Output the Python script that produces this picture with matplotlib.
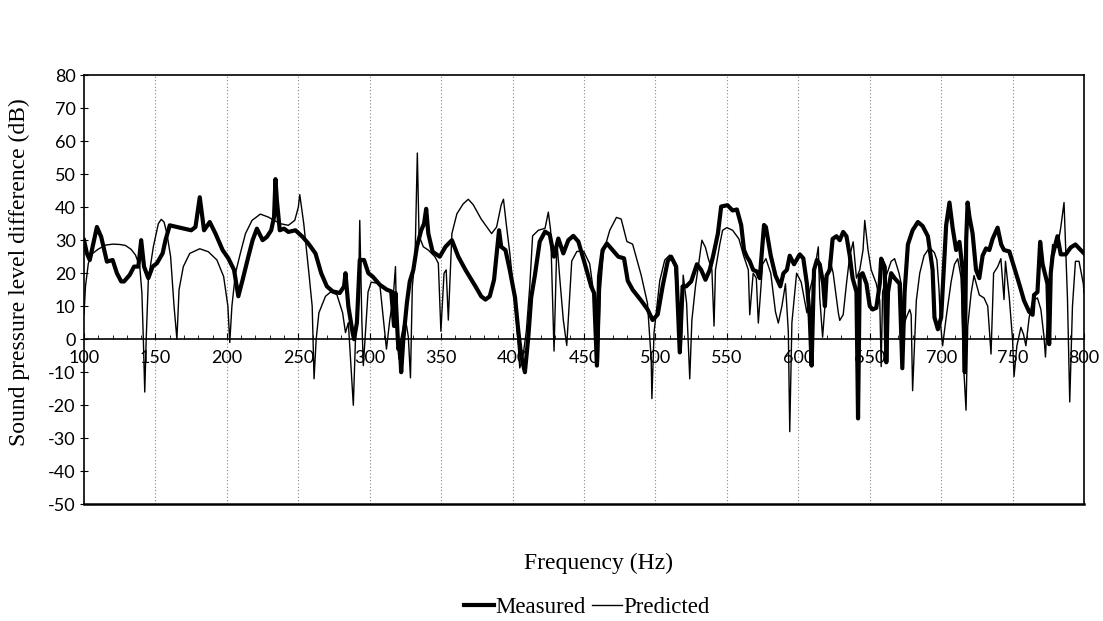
# Sound pressure level difference, measured vs predicted

import matplotlib
matplotlib.use("Agg")
import matplotlib.pyplot as plt
from matplotlib.ticker import MultipleLocator

plt.rcParams["axes.unicode_minus"] = False

# Measured curve (Hz, dB)
meas_f = [100, 102, 104, 107, 109, 112, 116, 120, 123, 126, 128, 132, 135, 138, 140, 142, 145, 148,
          151, 155, 157, 160, 165, 170, 175, 178, 181, 184, 188, 192, 197, 201, 205, 208, 211, 215,
          218, 221, 225, 228, 231, 233, 234, 235, 237, 240, 243, 248, 253, 257, 262, 266, 270, 274,
          279, 282, 283, 285, 288, 289, 291, 293, 296, 299, 302, 307, 312, 315, 317, 318, 320, 321,
          322, 323.5, 326, 328, 330.5, 333, 336, 338, 339.5, 341, 344, 349, 353, 357.5, 362, 367,
          374, 378, 381, 384, 387, 390.5, 392, 395, 398, 401.7, 404, 406, 408.6, 411, 413, 415.6,
          419, 422.7, 426, 429, 432, 435.5, 439, 442.5, 446, 450, 455, 457, 459, 460.5, 463, 466,
          470, 474, 478, 480.6, 484, 490, 494.5, 498, 501.6, 505, 508.6, 511, 514.5, 517, 519,
          521.5, 525, 529, 532, 535, 538, 540.4, 543.7, 546, 550.4, 554, 557, 560, 562, 564, 566,
          568.4, 571, 573, 576, 577.3, 580.7, 584, 587.4, 589.6, 592, 594, 597, 601, 603.5, 606,
          608, 609.3, 611, 613, 615, 617.4, 618.6, 619.8, 622, 624, 626.7, 629, 631.4, 633.7, 636,
          638, 640.7, 641.8, 643, 645, 647.7, 650, 652, 654.6, 657, 658, 660.5, 661.6, 662.8, 665,
          667.4, 670.9, 672.8, 674.4, 676.7, 680, 683.7, 687, 690.7, 694, 695.3, 697.7, 700, 703.5,
          705.8, 708, 710.5, 712.8, 715, 716.5, 717.5, 718.5, 719.8, 722, 724.4, 726.7, 729, 731.4,
          733.7, 736, 739.5, 742, 744, 747.7, 751, 754.6, 758, 761.6, 764, 765, 767.4, 769.3, 771,
          774.4, 775.6, 776.7, 778, 780, 781.4, 783.7, 787.2, 790.7, 794, 797.7, 800]
meas_db = [30, 26, 24, 30, 34, 31, 23.5, 24, 20, 17.5, 17.5, 19.5, 22, 22, 30, 22, 18.5, 22,
           23, 26, 30, 34.5, 34, 33.5, 33, 34, 43, 33, 35.5, 32, 27, 24.5, 21, 13, 18, 25,
           30, 33.5, 30, 31, 33, 37, 48.5, 42, 33, 33.5, 32.5, 33, 31, 29, 26, 20, 16, 14.5,
           14, 16, 20, 10, 2, 0, 5, 24, 24, 20, 19, 16.5, 15, 14.5, 4, 14, -3, -2,
           -10, 0, 11, 17.5, 21, 28, 33, 35, 39.5, 32, 26.5, 25, 28, 30, 25, 21,
           16, 13, 12, 13, 18, 33, 28, 27, 21, 12.6, 2.4, -5, -10, 0.7, 12.6, 19.4,
           29.6, 32.6, 31.7, 25, 30.5, 26, 30, 31.3, 29.6, 23.7, 16, 14, -8, 19, 27, 29,
           27, 25, 24.5, 17.7, 15, 11.7, 9, 5.8, 7.5, 16, 23.7, 25, 22, -4, 16,
           16, 17.5, 22.7, 21, 18, 21, 25.3, 32, 40.2, 40.6, 39, 39.3, 34.6, 27, 25, 23.6,
           21, 20.5, 18.5, 34.6, 34, 25.3, 19.3, 16, 20, 21, 25.3, 22.7, 25.7, 24.5, 16.8,
           6.6, -8, 21, 24, 22.7, 16.8, 10, 19.3, 21, 30.4, 31.2, 30, 32.5, 31.2, 25.3,
           18.5, 14.3, -24, 19.3, 20, 16.8, 10, 9, 9.5, 16.8, 24.4, 21.9, -7, 14.3, 20,
           18.5, 16.8, -8.8, 14.3, 28.7, 33, 35.5, 34.3, 31.2, 21, 6.6, 3, 6.6, 34.6,
           41.4, 33.8, 27, 29.5, 21, -10, 30, 41.4, 37, 32, 21, 18.5, 25.3, 27.5,
           27, 30.4, 33.8, 28.7, 27, 26.6, 21.9, 16.8, 11.7, 8.3, 7.4, 13.4, 14.3, 29.5, 22.7,
           16.8, -1.5, 20, 25.3, 28.7, 31.2, 25.7, 25.7, 27.8, 28.7, 27, 26]

# Predicted curve (Hz, dB)
pred_f = [100, 101, 103, 106, 110, 115, 120, 125, 129, 133, 136, 139, 140.5, 141.5, 142.5, 143.5,
          145, 148.5, 152, 154, 156, 158, 160.6, 163, 165, 166.5, 169.5, 174, 181, 187, 193,
          197.7, 200.7, 202, 203.5, 206, 209.4, 213, 217.6, 223.4, 229, 233, 237.5, 243, 247.5,
          250, 251, 253.8, 257.4, 259.7, 261, 262.5, 264.4, 269, 272.6, 277, 281, 283, 285, 288.5,
          290, 292, 293, 294.5, 295.5, 298.8, 301, 307, 309.4, 311.7, 314, 316.4, 318, 319, 320.4,
          321.8, 324, 325.8, 327, 328.5, 329.8, 331.7, 333.3, 334.5, 337.5, 341, 345.6, 348, 349.8,
          352, 353.5, 355, 357.5, 361, 365.4, 369, 372.5, 378, 385.3, 388.8, 392, 393.6, 395.6,
          398, 400, 403, 405, 407, 409.6, 412, 414, 418, 422.7, 425, 426.6, 429, 431, 433, 435.5,
          437.9, 441.4, 445, 449.8, 454, 457.7, 460, 461.5, 463.5, 468, 472.7, 476, 480, 484, 490,
          494.4, 497, 497.5, 499, 503, 506.5, 510, 513.5, 517, 518, 519.4, 521.8, 524, 525.5, 528,
          530.3, 532.5, 535, 537, 539.5, 541, 542, 545, 547, 550, 554, 558.4, 561.7, 565, 566,
          568.4, 570.6, 572, 575, 577.3, 580.7, 584, 586, 588.5, 591, 593, 594, 595.5, 598.8, 602,
          606, 608, 611, 614, 615, 617, 619.8, 622, 624.4, 628, 629, 631.4, 633.7, 636, 638.4,
          640.7, 643, 645.3, 646.5, 648.8, 651, 654.6, 657, 658, 659, 661.6, 665, 667.4, 670.5,
          672, 673, 675.6, 678, 679, 680, 682.6, 685, 688, 691.9, 695.3, 697, 698.5, 699.5, 701,
          703.5, 707, 709.3, 711.6, 714, 716, 717.4, 718.6, 721, 723, 726.7, 730, 732.6, 734.9,
          736.7, 739.5, 741.8, 744, 745, 747.7, 750, 751, 753, 755.8, 757.7, 759.3, 761.6, 764,
          767.4, 769.8, 772, 773, 775.6, 778, 781.4, 783.7, 786, 787, 788.4, 790, 791.9, 794,
          796.5, 799.5, 800]
pred_db = [7.7, 16, 23, 26, 27.3, 28.5, 28.8, 28.7, 28.4, 27.2, 25.5, 22, 14, 0, -16, 0,
           18, 28, 35, 36.3, 35.5, 32, 25, 10, 0, 15, 22, 26, 27.4, 26.5, 24,
           19, 10, -1, 10, 20, 26, 32, 36, 37.9, 37, 36, 35, 34.5, 36,
           40, 43.8, 35, 20, 10, -12, 0, 8, 13, 14.3, 13.5, 8, 2, 5, -20,
           0, 10, 36, 5, -8, 14.3, 17.3, 16.8, 6.6, -3, 5.8, 12.6, 22, 0.7, -6,
           0, 5, 4, 0.7, -11.7, 16, 24.5, 56.4, 31.3, 28, 27, 25, 23, 2.4,
           20, 21, 5.8, 32, 38, 41, 42.4, 40.7, 36.4, 32, 34, 40.7, 42.4, 34.7,
           26.2, 17.7, 4, -8.7, -6, 2.4, 16, 31.3, 33, 33.6, 38.5, 33, -3.6, 29.6, 18.5, 5.8,
           -1.9, 23.7, 26.6, 26.6, 22.8, 10.9, -8, 15, 26.2, 33, 36.9, 36.4, 29.6, 28.8, 19.4,
           10.9, -6, -18, 2, 17.7, 24, 25.5, 22, 0.7, -4, 19.4, 10.9, -12, 5.8, 16,
           23, 30, 27.8, 24.4, 21, 4, 21, 28.7, 33, 33.8, 33, 30.4, 25.3, 21, 7.4,
           20, 18.5, 4.9, 22.7, 24.4, 20, 8.3, 4.9, 10, 16.8, 2.3, -28, 5, 20, 17.3,
           8, 14.8, 20, 28, 12.5, 0.6, 16.8, 24.4, 20, 8, 5.7, 7.4, 16.8, 25.3, 29.5,
           18.5, 21, 27, 36, 27, 21, 16.8, 11.7, -8.3, 14.3, 19.3, 23.6, 24.4, 20,
           16.8, 3, 6.6, 9, 7.4, -15.6, 11.7, 20, 25.3, 27.8, 26.2, 24, 15, 5, -2,
           6.6, 17.5, 22.7, 24.4, 18.5, -10.5, -21.5, 4, 14, 19.3, 13.4, 12.5, 10, -4.5,
           20, 21.9, 24.4, 12, 23.6, 12.5, -0.3, -11.3, -2, 3.6, 1.4, -2, 6.6, 11.7,
           12.5, 9, 0.6, -5.4, 16.8, 28.7, 27.8, 33.8, 41.4, 29.5, 12.5, -19, 10, 23.6,
           23.6, 16.8, 14]

x_ticks = [100, 150, 200, 250, 300, 350, 400, 450, 500, 550, 600, 650, 700, 750, 800]
y_ticks = list(range(-50, 81, 10))

serif = "Liberation Serif"
sans = "Lato"

fig = plt.figure(figsize=(11.03, 6.21), dpi=100)
ax = fig.add_axes([0.0762, 0.188, 0.9066, 0.691])

# vertical dotted gridlines
for xv in x_ticks[1:-1]:
    ax.axvline(xv, color="#888888", linewidth=0.8, linestyle=(0, (1, 2)), zorder=0)

ax.plot(meas_f, meas_db, color="black", linewidth=3.0, solid_joinstyle="round", label="Measured", zorder=3)
ax.plot(pred_f, pred_db, color="black", linewidth=1.0, label="Predicted", zorder=4)

ax.set_xlim(100, 800)
ax.set_ylim(-50, 80)

# x axis drawn along y = 0, frame kept at the bottom
ax.spines["bottom"].set_position(("data", 0))
ax.spines["bottom"].set_linewidth(1.2)
ax.plot([0, 1], [0, 0], transform=ax.transAxes, color="black", linewidth=1.8, clip_on=False)
for s in ["left", "right", "top"]:
    ax.spines[s].set_linewidth(1.2)

ax.set_xticks(x_ticks)
ax.xaxis.set_minor_locator(MultipleLocator(10))
ax.tick_params(axis="x", which="major", direction="in", length=4, pad=8, labelsize=13)
ax.tick_params(axis="x", which="minor", direction="in", length=3)
ax.set_yticks(y_ticks)
ax.tick_params(axis="y", direction="inout", length=6, pad=3, labelsize=13)
for lab in ax.get_xticklabels() + ax.get_yticklabels():
    lab.set_fontfamily(sans)

fig.text(0.5425, 0.093, "Frequency (Hz)", ha="center", va="center", fontsize=17, family=serif)
fig.text(0.018, 0.562, "Sound pressure level difference (dB)", ha="center", va="center",
         rotation=90, fontsize=17, family=serif)

fig.legend(loc="center", bbox_to_anchor=(0.532, 0.022), ncol=2, frameon=False,
           handlelength=1.3, handletextpad=0.05, columnspacing=0.3,
           prop={"family": serif, "size": 16.5})

fig.savefig("out.png", dpi=100)
